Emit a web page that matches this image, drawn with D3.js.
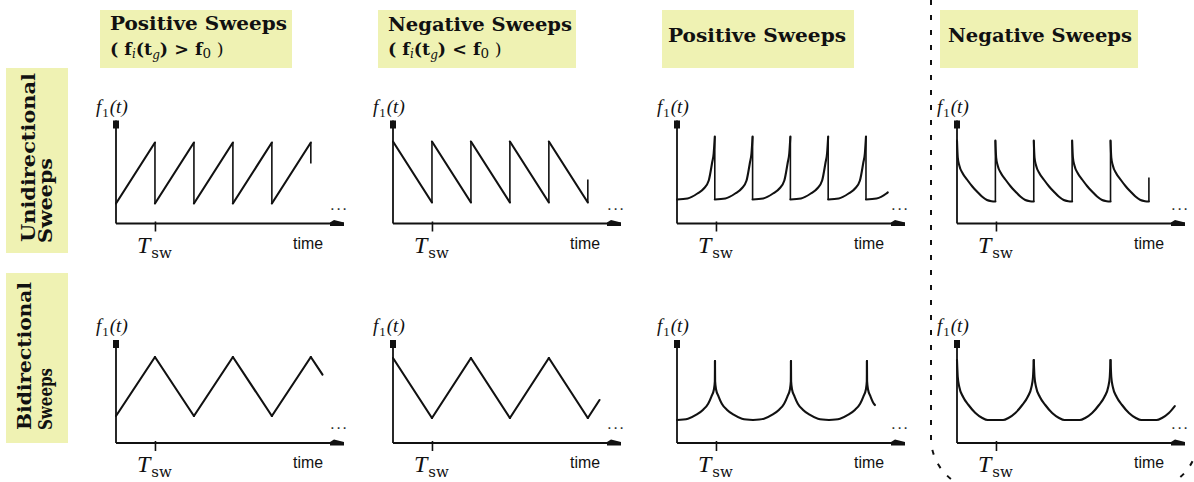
<!DOCTYPE html>
<html><head><meta charset="utf-8">
<script src="https://cdn.jsdelivr.net/npm/d3@7"></script>
<style>html,body{margin:0;padding:0;background:#fff;overflow:hidden}</style>
</head><body>
<svg id="chart" width="1194" height="482"></svg>
<script>
// ---------- text content ----------
const columnTitles = ["Positive Sweeps", "Negative Sweeps", "Positive Sweeps", "Negative Sweeps"];
const columnConditions = [">", "<", null, null];
const rowTitles = [["Unidirectional", "Sweeps"], ["Bidirectional", "Sweeps"]];
const yLabelMain = "f", yLabelSub = "1", yLabelArg = "(t)";
const xLabel = "time";
const tickMain = "T", tickSub = "sw";
const tickValues = [1];          // T_sw tick (in units of T_sw)
const ellipsisText = "...";

// ---------- waveforms: one period, [phase 0..1, value 0..100 of axis height] ----------
const sawUpPieces   = [[[0, 20], [1, 81]]];
const sawDownPieces = [[[0, 82], [1, 21]]];
const expUpPieces   = [[[0, 24], [0.28, 25], [0.54, 30], [0.71, 35], [0.84, 43], [0.93, 61], [0.97, 70], [1, 87]]];
const expDownPieces = [[[0, 83], [0.02, 66], [0.06, 58], [0.15, 50], [0.26, 44], [0.4, 37], [0.52, 32], [0.65, 27], [0.78, 23.5], [0.9, 22.3], [1, 22]]];
const triUpPieces   = [[[0, 27], [0.5, 86]], [[0.5, 86], [1, 27]]];
const triDownPieces = [[[0, 85], [0.5, 25]], [[0.5, 25], [1, 85]]];
const cuspUpPieces  = [
  [[0, 23], [0.145, 24.3], [0.255, 28.3], [0.344, 33.3], [0.41, 39.3], [0.454, 46.7], [0.485, 53.3], [0.498, 61.7], [0.5, 82]],
  [[0.5, 82], [0.502, 61.7], [0.515, 53.3], [0.546, 46.7], [0.59, 39.3], [0.656, 33.3], [0.745, 28.3], [0.855, 24.3], [1, 23]]
];
const cuspDownPieces = [
  [[0, 83], [0.01, 66], [0.03, 56], [0.08, 46], [0.15, 38], [0.24, 30], [0.33, 25], [0.4, 23], [0.5, 23]],
  [[0.5, 23], [0.6, 23], [0.67, 25], [0.76, 30], [0.85, 38], [0.92, 46], [0.97, 56], [0.99, 66], [1, 83]]
];

// per panel (row-major): shape, period (T_sw units), end time, optional tail value, curve style
const panelShapes  = [sawUpPieces, sawDownPieces, expUpPieces, expDownPieces,
                      triUpPieces, triDownPieces, cuspUpPieces, cuspDownPieces];
const panelPeriods = [1, 1, 0.97, 0.985, 2, 2, 1.95, 1.97];
const panelEnds    = [5, 5, 5.41, 4.925, 5.3, 5.3, 5.08, 5.59];
const panelTails   = [60, 44, null, 46, null, null, null, null];
const panelSmooth  = [false, false, true, true, false, false, true, true];

// ---------- layout ----------
const W = 1194, H = 482;
const colX = [116, 393, 677, 957];
const rowY = [223.5, 443];
const plotW = 226, plotH = 100;
const yellow = "#eff2b3";

const svg = d3.select("#chart");
svg.append("rect").attr("width", W).attr("height", H).attr("fill", "#fff");

// header boxes
const headerBoxes = [[100, 192], [378, 198], [662, 192], [940, 198]];
const headerLines = [[30, 55], [31, 55], [42], [42]];
const headerTextX = [110, 388, 668, 948];
const headerTextW = [177, 184, 178, 184];
columnTitles.forEach((t, i) => {
  svg.append("rect").attr("x", headerBoxes[i][0]).attr("y", 10)
    .attr("width", headerBoxes[i][1]).attr("height", 58).attr("fill", yellow);
  svg.append("text").attr("x", headerTextX[i]).attr("y", headerLines[i][0])
    .attr("font-family", "DejaVu Serif").attr("font-weight", "bold").attr("font-size", 18)
    .attr("textLength", headerTextW[i]).attr("lengthAdjust", "spacingAndGlyphs")
    .attr("fill", "#111").text(t);
  if (columnConditions[i]) {
    const tx = svg.append("text").attr("x", headerTextX[i]).attr("y", headerLines[i][1])
      .attr("font-family", "DejaVu Serif").attr("font-weight", "bold").attr("font-size", 17.5)
      .attr("fill", "#111");
    tx.append("tspan").text("( f");
    tx.append("tspan").attr("font-style", "italic").attr("font-weight", "normal").attr("font-size", 12).attr("dy", 3).text("i");
    tx.append("tspan").attr("dy", -3).text("(t");
    tx.append("tspan").attr("font-style", "italic").attr("font-weight", "normal").attr("font-size", 12).attr("dy", 4).text("g");
    tx.append("tspan").attr("dy", -4).text(") " + columnConditions[i] + " f");
    tx.append("tspan").attr("font-size", 13.5).attr("font-weight", "normal").attr("dy", 3).text("0");
    tx.append("tspan").attr("dy", -3).attr("font-weight", "normal").text(" )");
  }
});

// row label boxes
const rowBoxes = [[68, 185], [273, 170]];
const rowLine1X = [35, 31], rowLine2X = [52, 52];
const rowStartY = [[242, 243], [430, 430]];
const rowLens = [[169, 85], [148, 62]];
rowTitles.forEach((lines, r) => {
  svg.append("rect").attr("x", 6).attr("y", rowBoxes[r][0]).attr("width", 62)
    .attr("height", rowBoxes[r][1]).attr("fill", yellow);
  [rowLine1X[r], rowLine2X[r]].forEach((bx, j) => {
    svg.append("text")
      .attr("transform", `translate(${bx},${rowStartY[r][j]}) rotate(-90)`)
      .attr("font-family", "DejaVu Serif").attr("font-weight", "bold").attr("font-size", 19)
      .attr("textLength", rowLens[r][j]).attr("lengthAdjust", "spacingAndGlyphs")
      .attr("fill", "#111").text(lines[j]);
  });
});

// dashed rounded frame around last column
(function () {
  const L = 931, T = -30, R = 1198, B = 490, r = 52;
  const p = d3.path();
  p.moveTo(L, T);
  p.lineTo(L, B - r);
  p.arcTo(L, B, L + r, B, r);
  p.lineTo(R - r, B);
  p.arcTo(R, B, R, B - r, r);
  p.lineTo(R, T);
  svg.append("path").attr("d", p.toString()).attr("fill", "none")
    .attr("stroke", "#111").attr("stroke-width", 2).attr("stroke-dasharray", "5,10");
})();

function buildSegments(pieces, period, tEnd) {
  const segs = [];
  const n = Math.ceil(tEnd / period - 1e-6);
  for (let k = 0; k < n; k++) {
    for (const piece of pieces) {
      const pts = piece.map(([p, v]) => [(k + p) * period, v]);
      if (pts[0][0] >= tEnd - 1e-6) continue;
      const out = [];
      for (let i = 0; i < pts.length; i++) {
        if (pts[i][0] <= tEnd + 1e-6) out.push(pts[i]);
        else {
          const a = pts[i - 1], b = pts[i];
          const f = (tEnd - a[0]) / (b[0] - a[0]);
          out.push([tEnd, a[1] + f * (b[1] - a[1])]);
          break;
        }
      }
      if (out.length > 1) segs.push(out);
    }
  }
  return segs;
}

// panels
for (let r = 0; r < 2; r++) {
  for (let c = 0; c < 4; c++) {
    const idx = r * 4 + c;
    const ox = colX[c], oy = rowY[r];
    const x = d3.scaleLinear().domain([0, 5.8]).range([ox, ox + plotW]);
    const y = d3.scaleLinear().domain([0, 100]).range([oy, oy - plotH]);
    const g = svg.append("g");

    // x axis
    const xa = g.append("g").attr("transform", `translate(0,${oy})`)
      .call(d3.axisBottom(x).tickValues(tickValues).tickFormat("").tickSize(8).tickSizeOuter(0));
    xa.select(".domain").attr("stroke", "#111").attr("stroke-width", 1.8)
      .attr("d", `M${ox},0H${ox + plotW + 2}`);
    xa.selectAll(".tick line").attr("stroke", "#111").attr("stroke-width", 1.6).attr("y1", -2);
    // x arrow head
    g.append("path").attr("fill", "#111")
      .attr("d", `M${ox + plotW - 12},${oy + 2.5}L${ox + plotW - 12},${oy - 1}L${ox + plotW - 8},${oy - 3.5}L${ox + plotW + 2},${oy - 1}L${ox + plotW + 2},${oy + 2.5}Z`);

    // y axis
    const ya = g.append("g").attr("transform", `translate(${ox},0)`)
      .call(d3.axisLeft(y).tickValues([]).tickSizeOuter(0));
    ya.select(".domain").attr("stroke", "#111").attr("stroke-width", 1.8)
      .attr("d", `M0,${oy}V${y(103)}`);
    g.append("rect").attr("x", ox - 3).attr("y", y(103)).attr("width", 6).attr("height", 8).attr("fill", "#111");

    // waveform
    const segs = buildSegments(panelShapes[idx], panelPeriods[idx], panelEnds[idx]);
    const line = d3.line().x(d => x(d[0])).y(d => y(d[1]))
      .curve(panelSmooth[idx] ? d3.curveMonotoneX : d3.curveLinear);
    const straight = d3.line().x(d => x(d[0])).y(d => y(d[1]));
    segs.forEach((s, i) => {
      g.append("path").attr("d", line(s)).attr("fill", "none").attr("stroke", "#111")
        .attr("stroke-width", 2.1).attr("stroke-linejoin", "round").attr("stroke-linecap", "round");
      if (i > 0) {
        const a = segs[i - 1][segs[i - 1].length - 1], b = s[0];
        if (a[1] !== b[1] || a[0] !== b[0])
          g.append("path").attr("d", straight([a, b])).attr("fill", "none").attr("stroke", "#111").attr("stroke-width", 1.6);
      }
    });
    if (panelTails[idx] !== null) {
      const last = segs[segs.length - 1];
      const a = last[last.length - 1];
      g.append("path").attr("d", straight([a, [a[0], panelTails[idx]]])).attr("fill", "none")
        .attr("stroke", "#111").attr("stroke-width", 1.6);
    }

    // y label f1(t)
    const yl = g.append("text").attr("x", ox - 20).attr("y", oy - 111)
      .attr("font-family", "Liberation Serif").attr("font-size", 19).attr("fill", "#111");
    yl.append("tspan").attr("font-style", "italic").text(yLabelMain);
    yl.append("tspan").attr("font-size", 13).attr("dy", 4).attr("dx", 1).text(yLabelSub);
    yl.append("tspan").attr("font-style", "italic").attr("dy", -4).attr("dx", 1).text(yLabelArg);

    // tick label T_sw
    const tl = g.append("text").attr("x", x(tickValues[0]) - 18).attr("y", oy + 29)
      .attr("fill", "#111");
    tl.append("tspan").attr("font-family", "Liberation Serif").attr("font-style", "italic")
      .attr("font-size", 24).text(tickMain);
    tl.append("tspan").attr("font-family", "DejaVu Serif").attr("font-size", 15)
      .attr("dy", 5).attr("dx", 1).text(tickSub);

    // time label
    g.append("text").attr("x", ox + 177).attr("y", oy + 25)
      .attr("font-family", "Liberation Sans").attr("font-size", 17)
      .attr("textLength", 30).attr("lengthAdjust", "spacingAndGlyphs")
      .attr("fill", "#111").text(xLabel);

    // ellipsis
    g.append("text").attr("x", ox + 214).attr("y", oy - 14)
      .attr("font-family", "Liberation Sans").attr("font-size", 17)
      .attr("textLength", 17).attr("lengthAdjust", "spacing")
      .attr("fill", "#333").text(ellipsisText);
  }
}
</script>
</body></html>
